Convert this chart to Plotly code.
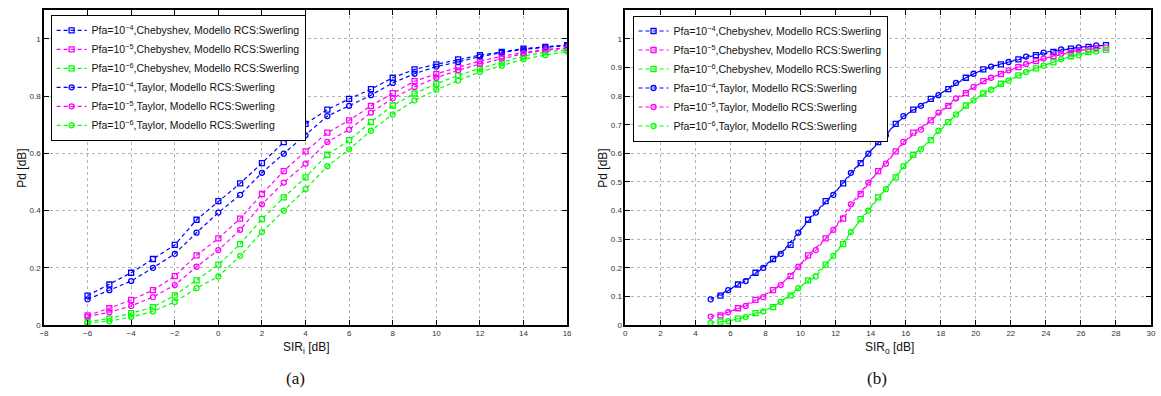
import plotly.graph_objects as go

# Input SIR grid (dB)
sir_i = list(range(-6, 17))

# Output-SIR offsets (dB) for the two window types
gain_cheb = 11.43
gain_taylor = 10.87

# Detection probability curves
pd_cheb_4 = [0.103, 0.142, 0.183, 0.231, 0.280, 0.368, 0.433, 0.495, 0.566, 0.639, 0.703, 0.753,
             0.790, 0.824, 0.864, 0.893, 0.911, 0.928, 0.943, 0.954, 0.966, 0.972, 0.978]
pd_cheb_5 = [0.034, 0.059, 0.088, 0.122, 0.171, 0.244, 0.303, 0.372, 0.458, 0.538, 0.607, 0.672,
             0.715, 0.766, 0.810, 0.852, 0.877, 0.901, 0.922, 0.939, 0.952, 0.963, 0.969]
pd_cheb_6 = [0.012, 0.023, 0.042, 0.063, 0.104, 0.156, 0.211, 0.283, 0.370, 0.446, 0.516, 0.595,
             0.646, 0.709, 0.767, 0.809, 0.843, 0.872, 0.897, 0.918, 0.939, 0.954, 0.961]
pd_taylor_4 = [0.090, 0.122, 0.154, 0.200, 0.249, 0.323, 0.393, 0.455, 0.532, 0.599, 0.663, 0.730,
               0.766, 0.803, 0.846, 0.878, 0.903, 0.919, 0.938, 0.952, 0.963, 0.970, 0.977]
pd_taylor_5 = [0.030, 0.045, 0.067, 0.098, 0.140, 0.204, 0.262, 0.333, 0.422, 0.498, 0.564, 0.640,
               0.683, 0.742, 0.792, 0.832, 0.864, 0.890, 0.912, 0.931, 0.948, 0.960, 0.967]
pd_taylor_6 = [0.008, 0.014, 0.028, 0.048, 0.081, 0.129, 0.170, 0.242, 0.325, 0.400, 0.475, 0.555,
               0.614, 0.679, 0.736, 0.785, 0.822, 0.854, 0.884, 0.906, 0.929, 0.943, 0.956]

pfa_exps = ["4", "5", "6"]
colors = ["#0000ff", "#ff00ff", "#00ff00"]

sir_o_cheb = [v + gain_cheb for v in sir_i]
sir_o_taylor = [v + gain_taylor for v in sir_i]

series = [
    ("Chebyshev", "square-open", pd_cheb_4, 0, sir_o_cheb),
    ("Chebyshev", "square-open", pd_cheb_5, 1, sir_o_cheb),
    ("Chebyshev", "square-open", pd_cheb_6, 2, sir_o_cheb),
    ("Taylor", "circle-open", pd_taylor_4, 0, sir_o_taylor),
    ("Taylor", "circle-open", pd_taylor_5, 1, sir_o_taylor),
    ("Taylor", "circle-open", pd_taylor_6, 2, sir_o_taylor),
]

fig = go.Figure()
for panel, (xa, ya, leg) in enumerate([("x", "y", "legend"), ("x2", "y2", "legend2")]):
    for win, sym, pd, k, xo in series:
        name = f"Pfa=10<sup>\u2212{pfa_exps[k]}</sup>,{win}, Modello RCS:Swerling"
        fig.add_trace(go.Scatter(
            x=sir_i if panel == 0 else xo, y=pd, name=name, mode="lines+markers",
            line=dict(color=colors[k], width=1.2, dash="4px,3px"),
            marker=dict(symbol=sym, size=5, color=colors[k], line=dict(width=1.3, color=colors[k])),
            xaxis=xa, yaxis=ya, legend=leg,
        ))

W, H = 1161, 396
top_px, bot_px = 10.3, 329.3

def px_x(v):
    return v / W

def px_y(v):
    return 1 - v / H

axis_common = dict(
    showline=True, linecolor="black", linewidth=1.5, mirror="allticks",
    ticks="inside", ticklen=5, tickcolor="black", tickwidth=1,
    showgrid=True, gridcolor="#b4b4b4", griddash="dot", gridwidth=1,
    zeroline=False, tickfont=dict(family="Liberation Sans, Arial", size=8, color="#333333"),
)

leg_common = dict(
    bgcolor="white", bordercolor="black", borderwidth=1,
    font=dict(family="Liberation Sans, Arial", size=10.5, color="#111111"),
    xanchor="left", yanchor="top", itemwidth=30, tracegroupgap=0,
)

fig.update_layout(
    width=W, height=H, margin=dict(l=0, r=0, t=0, b=0),
    paper_bgcolor="white", plot_bgcolor="white", showlegend=True,
    xaxis=dict(domain=[px_x(39.3), px_x(567)], range=[-8, 16], dtick=2, anchor="y", **axis_common),
    yaxis=dict(domain=[px_y(bot_px), px_y(top_px)], range=[0, 1.1], tickvals=[0, 0.2, 0.4, 0.6, 0.8, 1],
               ticktext=["0", "0.2", "0.4", "0.6", "0.8", "1"], anchor="x", **axis_common),
    xaxis2=dict(domain=[px_x(625.7), px_x(1156)], range=[0, 30], dtick=2, anchor="y2", **axis_common),
    yaxis2=dict(domain=[px_y(bot_px), px_y(top_px)], range=[0, 1.1],
                tickvals=[0, 0.1, 0.2, 0.3, 0.4, 0.5, 0.6, 0.7, 0.8, 0.9, 1],
                ticktext=["0", "0.1", "0.2", "0.3", "0.4", "0.5", "0.6", "0.7", "0.8", "0.9", "1"],
                anchor="x2", **axis_common),
    legend=dict(x=px_x(46), y=px_y(15), **leg_common),
    legend2=dict(x=px_x(633), y=px_y(15.7), **leg_common),
)

label_font = dict(family="Liberation Sans, Arial", size=12, color="#111111")
cap_font = dict(family="Liberation Serif, Times New Roman", size=17, color="#111111")
fig.add_annotation(text="SIR<sub>i</sub> [dB]", x=px_x(304), y=px_y(352), xref="paper", yref="paper",
                   showarrow=False, font=label_font, xanchor="center", yanchor="middle")
fig.add_annotation(text="SIR<sub>o</sub> [dB]", x=px_x(892), y=px_y(352), xref="paper", yref="paper",
                   showarrow=False, font=label_font, xanchor="center", yanchor="middle")
fig.add_annotation(text="Pd [dB]", x=px_x(17), y=px_y(170), xref="paper", yref="paper", textangle=-90,
                   showarrow=False, font=label_font, xanchor="center", yanchor="middle")
fig.add_annotation(text="Pd [dB]", x=px_x(603), y=px_y(170), xref="paper", yref="paper", textangle=-90,
                   showarrow=False, font=label_font, xanchor="center", yanchor="middle")
fig.add_annotation(text="(a)", x=px_x(293), y=px_y(383), xref="paper", yref="paper",
                   showarrow=False, font=cap_font, xanchor="center", yanchor="middle")
fig.add_annotation(text="(b)", x=px_x(880), y=px_y(383), xref="paper", yref="paper",
                   showarrow=False, font=cap_font, xanchor="center", yanchor="middle")

fig.write_html("out.html")
